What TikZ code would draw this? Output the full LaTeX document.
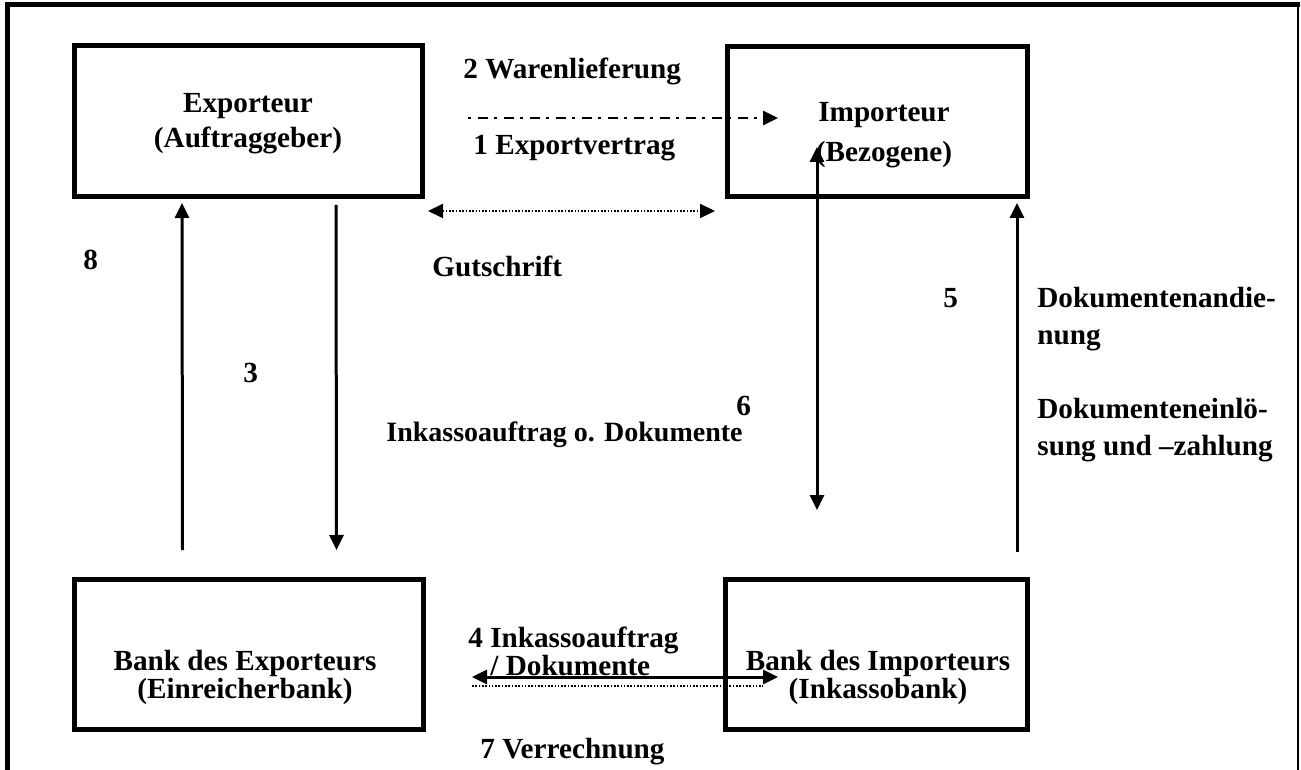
\documentclass[tikz,border=0pt]{standalone}
\usepackage{fontspec}
\setmainfont{Liberation Serif}
\usetikzlibrary{arrows.meta}
\newcommand\bfs{\fontsize{14.6}{18.5}\selectfont\bfseries}

\tikzset{
  box/.style={draw, line width=2.5pt, inner sep=0pt},
  boxtext/.style={inner sep=0pt, font=\bfs, align=center, anchor=base},
  lbl/.style={inner sep=0pt, font=\bfs, align=left, anchor=base west},
  flow/.style={line width=1.5pt, -{Triangle[length=7.5pt,width=7pt]}},
  both/.style={line width=1.5pt, {Triangle[length=7.5pt,width=7pt]}-{Triangle[length=7.5pt,width=7pt]}},
  dashdot/.style={line width=1.3pt, dash pattern=on 1.5pt off 3.5pt on 5pt off 3pt},
  dots/.style={line width=1pt, dash pattern=on 0.8pt off 0.85pt}
}

\begin{document}
\begin{tikzpicture}[x=0.5pt,y=-0.5pt]
\useasboundingbox (0,0) rectangle (1301,770);
% frame
\draw[line width=2.5pt] (7.5,770) -- (7.5,5) -- (1300,5);
\draw[line width=1pt] (1298,5) -- (1298,770);

% boxes
\node[box, minimum width=174pt, minimum height=75.5pt] (exp)  at (248,121.5) {};
\node[box, minimum width=150pt, minimum height=75pt]   (imp)  at (877,122)   {};
\node[box, minimum width=174.5pt, minimum height=75pt] (bexp) at (248.5,654) {};
\node[box, minimum width=151pt, minimum height=75pt]   (bimp) at (876,654)   {};

% base anchor = last line
\node[boxtext, font={\fontsize{14.6}{17.5}\selectfont\bfseries}] (expt) at (248,148) {Exporteur\\(Auftraggeber)};
\node[boxtext, font={\fontsize{14.6}{20}\selectfont\bfseries}] (impt) at (884,162) {Importeur\\(Bezogene)};
\node[boxtext, font={\fontsize{14.6}{14}\selectfont\bfseries}] (bexpt) at (245,698) {Bank des Exporteurs\\(Einreicherbank)};
\node[boxtext, font={\fontsize{14.6}{14}\selectfont\bfseries}] (bimpt) at (878,698) {Bank des Importeurs\\(Inkassobank)};

% connectors
\draw[dashdot, -{Triangle[length=7.5pt,width=7pt]}]
  ([xshift=21.75pt,yshift=1.75pt]exp.east) -- ([xshift=26.75pt,yshift=2pt]imp.west);
\draw[dots, {Triangle[length=7.5pt,width=7pt]}-{Triangle[length=7.5pt,width=7pt]}]
  ([xshift=1.75pt,yshift=-5.75pt]exp.south east) -- ([xshift=-4.75pt,yshift=-5.75pt]imp.south west);
\draw[flow] ([xshift=-33pt,yshift=13.25pt]bexp.north) -- ([xshift=-33pt,yshift=-1.75pt]exp.south);
\draw[flow] ([xshift=44pt,yshift=-2.75pt]exp.south) -- ([xshift=44pt,yshift=13.25pt]bexp.north);
\draw[both] ([xshift=-30pt,yshift=-12.5pt]imp.center) -- ([xshift=-29.5pt,yshift=33.25pt]bimp.north);
\draw[flow] ([xshift=70.5pt,yshift=12.25pt]bimp.north) -- ([xshift=70pt,yshift=-1.75pt]imp.south);
\draw[both] ([xshift=23.25pt,yshift=-11.5pt]bexp.east) -- ([xshift=27.75pt,yshift=-11.5pt]bimp.west);
\draw[dots] ([xshift=23.25pt,yshift=-16pt]bexp.east) -- ([xshift=20.25pt,yshift=-16pt]bimp.west);

% labels
\node[lbl] (l2) at (463,79)  {2 Warenlieferung};
\node[lbl] (l1) at (473,155) {1 Exportvertrag};
\node[lbl] (lg) at (432,277) {Gutschrift};
\node[lbl] (l8) at (83,270)  {8};
\node[lbl] (l3) at (243,382) {3};
\node[lbl, font={\fontsize{14}{18}\selectfont\bfseries}] (li) at (386,441) {Inkassoauftrag o. Dokumente};
\node[lbl] (l6) at (736,415) {6};
\node[lbl] (l5) at (943,307) {5};
\node[lbl] (l5a) at (1037,344) {Dokumentenandie-\\nung};
\node[lbl] (l5b) at (1037,455) {Dokumenteneinlö-\\sung und –zahlung};
\node[lbl] (l4a) at (468,647) {4 Inkassoauftrag};
\node[lbl] (l4b) at (490,675) {/ Dokumente};
\node[lbl] (l7) at (480,758) {7 Verrechnung};
\end{tikzpicture}
\end{document}
